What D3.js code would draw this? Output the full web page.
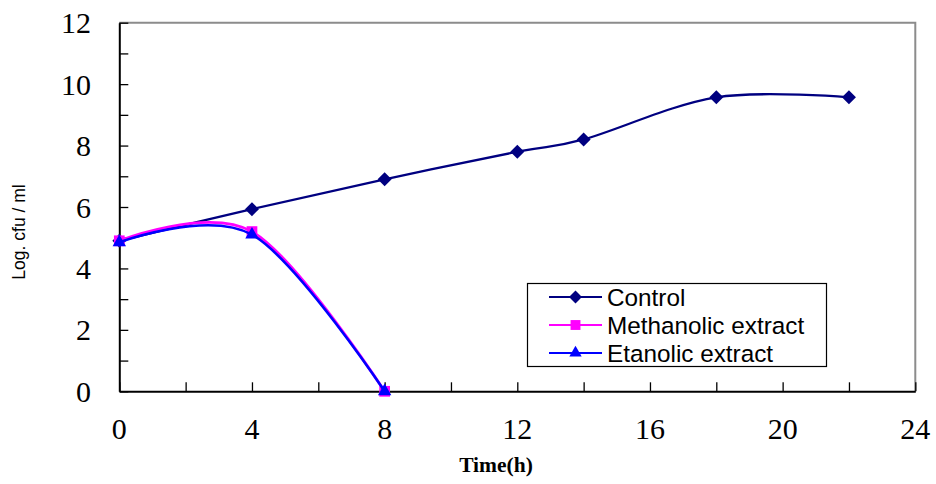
<!DOCTYPE html>
<html><head><meta charset="utf-8">
<script src="https://cdn.jsdelivr.net/npm/d3@7"></script>
<style>body{margin:0;background:#fff}</style>
</head><body>
<svg id="c" width="936" height="484"></svg>
<script>
const hours = [0, 4, 8, 12, 14, 18, 22];
const controlVals = [4.9, 5.93, 6.9, 7.8, 8.2, 9.57, 9.57];
const methHours = [0, 4, 8];
const methVals = [4.9, 5.2, 0];
const etaHours = [0, 4, 8];
const etaVals = [4.85, 5.1, 0];
const xTicks = [0, 4, 8, 12, 16, 20, 24];
const yTicks = [0, 2, 4, 6, 8, 10, 12];
const seriesNames = ["Control", "Methanolic extract", "Etanolic extract"];

const svg = d3.select("#c");
const L = 119.3, R = 915.3, T = 22.7, B = 391.3;
const x = d3.scaleLinear().domain([0, 24]).range([L, R]);
const y = d3.scaleLinear().domain([0, 12]).range([B, T]);

// frame (top/right gray)
svg.append("path").attr("d", `M${L},${T}H${R}V${B}`).attr("fill","none").attr("stroke","#8c8c8c").attr("stroke-width",2);

// axes
const xAxis = d3.axisBottom(x).tickValues(d3.range(0, 25, 2)).tickSizeInner(-9).tickSizeOuter(0).tickFormat("");
const gx = svg.append("g").attr("transform", `translate(0,${B})`).call(xAxis);
const yAxis = d3.axisLeft(y).tickValues(d3.range(0, 13, 1)).tickSizeInner(-9).tickSizeOuter(0).tickFormat("");
const gy = svg.append("g").attr("transform", `translate(${L},0)`).call(yAxis);
[gx, gy].forEach(g => {
  g.select(".domain").attr("stroke","#000").attr("stroke-width",2);
  g.selectAll(".tick line").attr("stroke","#000").attr("stroke-width",1.3);
});

// tick labels
svg.append("g").selectAll("text").data(xTicks).join("text")
  .attr("x", d => x(d)).attr("y", 439).attr("text-anchor","middle")
  .attr("font-family","'Liberation Serif', 'Times New Roman', serif").attr("font-size",30)
  .text(d => d);
svg.append("g").selectAll("text").data(yTicks).join("text")
  .attr("x", 91).attr("y", d => y(d) + 10.5).attr("text-anchor","end")
  .attr("font-family","'Liberation Serif', 'Times New Roman', serif").attr("font-size",30)
  .text(d => d);

// axis titles
svg.append("text").attr("x", 496).attr("y", 472).attr("text-anchor","middle")
  .attr("font-family","'Liberation Serif', serif").attr("font-weight","bold").attr("font-size",21.5)
  .text("Time(h)");
svg.append("text").attr("transform","translate(24.5,232) rotate(-90)").attr("text-anchor","middle")
  .attr("font-family","'Liberation Sans', Arial, sans-serif").attr("font-size",17.5)
  .text("Log. cfu / ml");

const line = d3.line().x(d => x(d[0])).y(d => y(d[1])).curve(d3.curveCardinal.tension(0));

const series = [
  {name: seriesNames[0], xs: hours, ys: controlVals, color: "#000080", sym: d3.symbolSquare, size: 98, rot: 45, w: 2.3},
  {name: seriesNames[1], xs: methHours, ys: methVals, color: "#ff00ff", sym: d3.symbolSquare, size: 115, rot: 0, w: 2.8},
  {name: seriesNames[2], xs: etaHours, ys: etaVals, color: "#0000ff", sym: d3.symbolTriangle, size: 78, rot: 0, w: 2.6}
];

series.forEach(s => {
  const pts = s.xs.map((h, i) => [h, s.ys[i]]);
  svg.append("path").datum(pts).attr("d", line).attr("fill","none")
    .attr("stroke", s.color).attr("stroke-width", s.w);
  svg.append("g").selectAll("path").data(pts).join("path")
    .attr("transform", d => `translate(${x(d[0])},${y(d[1])}) rotate(${s.rot})`)
    .attr("d", d3.symbol().type(s.sym).size(s.size)).attr("fill", s.color);
});

// legend
const lg = svg.append("g");
lg.append("rect").attr("x", 527.5).attr("y", 283.5).attr("width", 299).attr("height", 83)
  .attr("fill","#fff").attr("stroke","#000").attr("stroke-width",1.2);
series.forEach((s, i) => {
  const cy = 297 + i * 28;
  lg.append("line").attr("x1", 549).attr("x2", 602).attr("y1", cy).attr("y2", cy)
    .attr("stroke", s.color).attr("stroke-width", 2.2);
  lg.append("path").attr("transform", `translate(575.5,${cy}) rotate(${s.rot})`)
    .attr("d", d3.symbol().type(s.sym).size(s.size * 0.85)).attr("fill", s.color);
  lg.append("text").attr("x", 607).attr("y", cy + 8.5)
    .attr("font-family","'Liberation Sans', Arial, sans-serif").attr("font-size",24.3)
    .text(s.name);
});
</script>
</body></html>
